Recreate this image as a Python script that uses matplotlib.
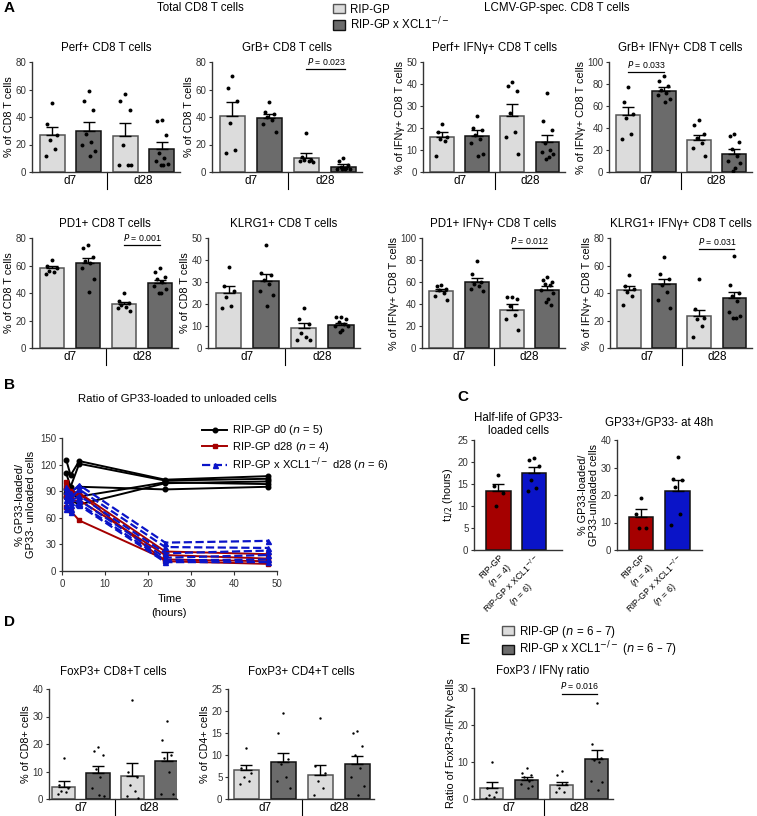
import matplotlib
matplotlib.use('Agg')
import matplotlib.pyplot as plt
from matplotlib.patches import Patch
from matplotlib.lines import Line2D

plt.rcParams['font.family'] = ['Liberation Sans', 'DejaVu Sans']
plt.rcParams['axes.linewidth'] = 1.0

W, H = 757, 816

# ---- data: panel A (means, sem, individual mice) ----
perf_mean = [27, 30, 26.5, 16.5]
perf_sem = [5.5, 6.5, 9, 5]
perf_pts = [[50, 35, 27, 23, 17, 12], [59, 52, 45, 28, 22, 20, 15, 12],
            [57, 52, 45, 20, 5, 5, 5], [38, 37, 27, 14, 10, 8, 6, 5, 5]]

grb_mean = [41, 39.5, 10.5, 4]
grb_sem = [10, 2.5, 3, 1.5]
grb_pts = [[70, 61, 52, 36, 16, 14], [51, 44, 42, 40, 38, 35, 29],
           [28.5, 11, 9, 9, 8, 8, 7], [10, 8, 5, 4, 3, 2, 2, 2, 2]]

perf_ifn_mean = [16, 16.5, 25.5, 13.5]
perf_ifn_sem = [2, 2.5, 5.5, 3.5]
perf_ifn_pts = [[22, 18, 16, 15, 14, 7.5], [25.5, 20, 19, 17, 15, 13, 8, 7.5],
                [41, 39, 37, 27, 18, 16, 8], [36, 23, 19, 13, 10, 9, 8, 7, 6]]

grb_ifn_mean = [52, 74, 29, 16]
grb_ifn_sem = [7.5, 3, 4.5, 4.5]
grb_ifn_pts = [[77, 64, 53, 49, 35, 30], [87, 83, 78, 75, 72, 70, 66, 64],
               [47, 43, 35, 31, 26, 22, 15], [35, 33, 27, 21, 15, 10, 8, 4, 1]]

pd1_mean = [58, 61.5, 32, 47]
pd1_sem = [2, 4, 1.5, 2.5]
pd1_pts = [[64, 60, 58, 56, 55, 54], [75, 73, 66, 63, 62, 58, 50, 41],
           [40, 34, 33, 31, 30, 29, 27], [58, 55, 52, 50, 48, 45, 43, 40, 40]]

klrg_mean = [25, 30.5, 9, 10.5]
klrg_sem = [3, 3, 2.5, 1]
klrg_pts = [[37, 28, 26, 23, 19, 18], [47, 34, 33, 31, 29, 26, 24, 19],
            [18, 13, 11, 7, 5, 3.5, 3.5], [14, 14, 13, 12, 11, 10, 10, 8, 7.5]]

pd1_ifn_mean = [51.5, 60, 35, 53]
pd1_ifn_sem = [2.5, 3.5, 5, 3]
pd1_ifn_pts = [[57, 56, 54, 53, 50, 47, 44], [79, 67, 60, 58, 56, 54, 52],
               [46, 46, 45, 38, 30, 26, 16], [65, 62, 60, 58, 57, 53, 50, 45, 42, 39]]

klrg_ifn_mean = [42, 46.5, 23, 36.5]
klrg_ifn_sem = [3, 4, 5, 4.5]
klrg_ifn_pts = [[53, 45, 43, 41, 38, 31], [66, 54, 50, 46, 41, 35, 29],
                [50, 28.5, 22, 21, 16, 8], [67, 46, 40, 38, 34, 26, 23, 22, 22]]

# ---- data: panel B (ratio over time, one list per mouse) ----
times = [1, 2, 4, 24, 48]
d0_mice = [[125, 108, 124, 103, 107], [110, 95, 121, 102, 104], [92, 90, 95, 92, 95],
           [88, 85, 84, 100, 98], [84, 80, 75, 99, 101]]
d28_mice = [[100, 90, 88, 22, 19], [85, 78, 80, 18, 14], [72, 68, 57, 13, 11],
            [95, 85, 87, 11, 8]]
xcl_d28_mice = [[95, 88, 97, 32, 34], [90, 82, 92, 27, 26], [85, 78, 85, 20, 23],
                [80, 75, 80, 15, 18], [75, 70, 76, 12, 13], [70, 67, 74, 10, 10]]

# ---- data: panel C ----
half_mean = [13.5, 17.5]
half_sem = [1.5, 1.3]
half_pts = [[17, 14.5, 13, 10], [21, 20.5, 19, 16, 14, 13.5]]
r48_mean = [12, 21.5]
r48_sem = [3, 4]
r48_pts = [[19, 13, 8, 8], [34, 26, 25.5, 23, 13, 9]]
c_labels = ['RIP-GP\n($\\it{n}$ = 4)', 'RIP-GP x XCL1$^{-/-}$\n($\\it{n}$ = 6)']

# ---- data: panel D, E ----
fox8_mean = [4.5, 9.5, 8.5, 14]
fox8_sem = [2, 2.5, 4.5, 3]
fox8_pts = [[15, 5, 4, 3, 2.5, 2], [19, 17.5, 16, 11, 8, 4, 1, 1.5],
            [36, 10, 8, 5, 3, 1, 0.5], [28.5, 21.5, 16, 15, 10, 2, 2]]
fox4_mean = [6.5, 8.5, 5.5, 8]
fox4_sem = [1.2, 2, 2.3, 1.8]
fox4_pts = [[11.5, 7, 6, 5, 4, 3.5], [19.5, 15, 9, 8, 5, 4, 2.5],
            [18.5, 7.5, 6, 4, 2.5, 1], [15.5, 15, 12, 10, 7, 5, 3, 1]]
ratio_mean = [3, 5.2, 3.7, 10.8]
ratio_sem = [1.5, 0.8, 1, 2.4]
ratio_pts = [[10, 3, 2, 1, 0.5, 0.2], [8.5, 7, 6.5, 6, 5, 4, 3.5, 3],
             [7.5, 6.5, 4, 3, 2, 2], [26, 15, 11, 10.5, 10, 5, 4.5, 2.5]]

groups = ['d7', 'd28']
LIGHT, DARK = '#dcdcdc', '#6b6b6b'
RED, BLUE = '#a50000', '#0a14c8'
TFS = 8.3   # subplot titles
YFS = 7.8   # y labels
KFS = 7     # tick labels


def rect(l, r, t, b):
    return [l / W, 1 - b / H, (r - l) / W, (b - t) / H]


def style(ax, ymax, step):
    ax.spines['top'].set_visible(False)
    ax.spines['right'].set_visible(False)
    for s in ['left', 'bottom']:
        ax.spines[s].set_color('#333333')
    ax.set_ylim(0, ymax)
    ax.set_yticks(range(0, ymax + 1, step))
    ax.tick_params(axis='y', labelsize=KFS, length=2.5, width=0.8, pad=1.5, colors='#333333')
    ax.tick_params(axis='x', length=0)


def offsets(n):
    pat = [0, -0.13, 0.13, -0.07, 0.07, -0.17, 0.17, 0.03, -0.03, 0.1]
    return pat[:n]


def bar_panel(ax, means, sems, pts, ymax, step, title, ylabel, xlim, width=0.68,
              dot=8, pval=None, cols=(LIGHT, DARK, LIGHT, DARK), tpad=8):
    x = list(range(len(means)))
    for i in x:
        ec = '#555555' if cols[i] == LIGHT else '#111111'
        ax.bar(i, means[i], width=width, color=cols[i], edgecolor=ec, linewidth=1.1, zorder=2)
    ax.errorbar(x, means, yerr=[[0] * len(x), sems], fmt='none', ecolor='black',
                elinewidth=1.0, capsize=4, capthick=1.0, zorder=3)
    for i in x:
        off = offsets(len(pts[i]))
        ax.scatter([i + o for o in off], pts[i], s=dot, color='black', zorder=4, linewidths=0)
    ax.set_xlim(*xlim)
    style(ax, ymax, step)
    ax.set_xticks([])
    if title:
        ax.set_title(title, fontsize=TFS, pad=tpad)
    ax.set_ylabel(ylabel, fontsize=YFS, labelpad=1)
    if len(means) == 4:
        tr = ax.get_xaxis_transform()
        ax.plot([1.5, 1.5], [0, -0.15], transform=tr, color='black', lw=0.8, clip_on=False)
        ax.text(0.5, -0.03, groups[0], transform=tr, ha='center', va='top', fontsize=8.5)
        ax.text(2.5, -0.03, groups[1], transform=tr, ha='center', va='top', fontsize=8.5)
    if pval:
        a, b, y, txt = pval
        ax.plot([a, b], [y, y], color='black', lw=0.9)
        ax.text((a + b) / 2, y + ymax * 0.02, '$\\it{P}$ = ' + txt, ha='center', va='bottom',
                fontsize=6.3)


fig = plt.figure(figsize=(W / 100, H / 100), dpi=100)

# ---- panel A ----
xl = (-0.55, 3.5)
ylab_tot = '% of CD8 T cells'
ylab_ifn = '% of IFNγ+ CD8 T cells'
specs = [
    ((32, 180, 62, 172), perf_mean, perf_sem, perf_pts, 80, 20, 'Perf+ CD8 T cells', ylab_tot, None),
    ((212, 362, 62, 172), grb_mean, grb_sem, grb_pts, 80, 20, 'GrB+ CD8 T cells', ylab_tot,
     (2, 3.05, 75, '0.023')),
    ((423, 565, 62, 172), perf_ifn_mean, perf_ifn_sem, perf_ifn_pts, 50, 10,
     'Perf+ IFNγ+ CD8 T cells', ylab_ifn, None),
    ((609, 752, 62, 172), grb_ifn_mean, grb_ifn_sem, grb_ifn_pts, 100, 20,
     'GrB+ IFNγ+ CD8 T cells', ylab_ifn, (0, 1, 91, '0.033')),
    ((32, 178, 238, 348), pd1_mean, pd1_sem, pd1_pts, 80, 20, 'PD1+ CD8 T cells', ylab_tot,
     (2, 3, 75, '0.001')),
    ((208, 360, 238, 348), klrg_mean, klrg_sem, klrg_pts, 50, 10, 'KLRG1+ CD8 T cells', ylab_tot, None),
    ((422, 565, 238, 348), pd1_ifn_mean, pd1_ifn_sem, pd1_ifn_pts, 100, 20,
     'PD1+ IFNγ+ CD8 T cells', ylab_ifn, (2, 3, 91, '0.012')),
    ((610, 752, 238, 348), klrg_ifn_mean, klrg_ifn_sem, klrg_ifn_pts, 80, 20,
     'KLRG1+ IFNγ+ CD8 T cells', ylab_ifn, (2, 3, 72, '0.031')),
]
for r, m, s, p, ym, st, t, yl, pv in specs:
    ax = fig.add_axes(rect(*r))
    bar_panel(ax, m, s, p, ym, st, t, yl, xl, pval=pv)

fig.text(4 / W, 1 - 8 / H, 'A', fontsize=11, fontweight='bold', va='center')
fig.text(200 / W, 1 - 8 / H, 'Total CD8 T cells', fontsize=8.3, ha='center', va='center')
fig.text(557 / W, 1 - 8 / H, 'LCMV-GP-spec. CD8 T cells', fontsize=8.3, ha='center', va='center')
fig.legend(handles=[Patch(facecolor=LIGHT, edgecolor='#555555'),
                    Patch(facecolor=DARK, edgecolor='#111111')],
           labels=['RIP-GP', 'RIP-GP x XCL1$^{-/-}$'], loc='upper left',
           bbox_to_anchor=(328 / W, 1 + 1 / H), frameon=False, fontsize=8.3,
           handlelength=1.1, handleheight=0.9, handletextpad=0.4, labelspacing=0.0,
           borderaxespad=0)

# ---- panel B ----
axb = fig.add_axes(rect(62, 277, 438, 571))
for m in d0_mice:
    axb.plot(times, m, color='black', marker='o', ms=3.3, lw=1.4)
for m in d28_mice:
    axb.plot(times, m, color=RED, marker='s', ms=3.3, lw=1.4)
for m in xcl_d28_mice:
    axb.plot(times, m, color=BLUE, marker='^', ms=3.6, lw=1.6, ls='--')
axb.set_xlim(0, 50)
style(axb, 150, 30)
axb.set_xticks(range(0, 51, 10))
axb.tick_params(axis='x', labelsize=KFS, length=3, width=0.8, pad=3, colors='#333333')
axb.set_xlabel('Time\n(hours)', fontsize=8, labelpad=3, linespacing=1.5)
axb.set_ylabel('% GP33-loaded/\nGP33- unloaded cells', fontsize=8, labelpad=3)
fig.text(4 / W, 1 - 385 / H, 'B', fontsize=11, fontweight='bold', va='center')
fig.text(177 / W, 1 - 399 / H, 'Ratio of GP33-loaded to unloaded cells', fontsize=8.2,
         ha='center', va='center')
fig.legend(handles=[Line2D([], [], color='black', marker='o', ms=3.3, lw=1.4),
                    Line2D([], [], color=RED, marker='s', ms=3.3, lw=1.4),
                    Line2D([], [], color=BLUE, marker='^', ms=3.6, lw=1.6, ls='--')],
           labels=['RIP-GP d0 ($\\it{n}$ = 5)', 'RIP-GP d28 ($\\it{n}$ = 4)',
                   'RIP-GP x XCL1$^{-/-}$ d28 ($\\it{n}$ = 6)'],
           loc='upper left', bbox_to_anchor=(198 / W, 1 - 419 / H), frameon=False,
           fontsize=8, handlelength=2.2, handletextpad=0.5, labelspacing=0.2,
           borderaxespad=0)

# ---- panel C ----
axc1 = fig.add_axes(rect(474, 562, 440, 550))
bar_panel(axc1, half_mean, half_sem, half_pts, 25, 5, 'Half-life of GP33-\nloaded cells',
          't$_{1/2}$ (hours)', (-0.69, 1.79), cols=(RED, BLUE), tpad=4)
axc2 = fig.add_axes(rect(617, 702, 440, 550))
bar_panel(axc2, r48_mean, r48_sem, r48_pts, 40, 10, 'GP33+/GP33- at 48h',
          '% GP33-loaded/\nGP33-unloaded cells', (-0.66, 1.67), cols=(RED, BLUE), tpad=10)
for ax in (axc1, axc2):
    for p in ax.patches:
        p.set_edgecolor('#111111')
    ax.set_xticks([0, 1])
    ax.set_xticklabels(c_labels, rotation=45, ha='right', rotation_mode='anchor',
                       fontsize=6.3, multialignment='center')
    ax.tick_params(axis='x', pad=2)
fig.text(457 / W, 1 - 397 / H, 'C', fontsize=11, fontweight='bold', va='center')

# ---- panel D ----
axd1 = fig.add_axes(rect(49, 177, 689, 799))
bar_panel(axd1, fox8_mean, fox8_sem, fox8_pts, 40, 10, 'FoxP3+ CD8+T cells',
          '% of CD8+ cells', (-0.43, 3.3), dot=3, tpad=10)
axd2 = fig.add_axes(rect(228, 374, 689, 799))
bar_panel(axd2, fox4_mean, fox4_sem, fox4_pts, 25, 5, 'FoxP3+ CD4+T cells',
          '% of CD4+ cells', (-0.49, 3.45), dot=3, tpad=10)
fig.text(4 / W, 1 - 622 / H, 'D', fontsize=11, fontweight='bold', va='center')

# ---- panel E ----
axe = fig.add_axes(rect(474, 613, 688, 799))
bar_panel(axe, ratio_mean, ratio_sem, ratio_pts, 30, 10, None,
          'Ratio of FoxP3+/IFNγ cells', (-0.5, 3.47), dot=3, pval=(2, 3, 28.5, '0.016'))
fig.text(543 / W, 1 - 671 / H, 'FoxP3 / IFNγ ratio', fontsize=TFS, ha='center', va='center')
fig.text(460 / W, 1 - 640 / H, 'E', fontsize=11, fontweight='bold', va='center')
fig.legend(handles=[Patch(facecolor=LIGHT, edgecolor='#555555'),
                    Patch(facecolor=DARK, edgecolor='#111111')],
           labels=['RIP-GP ($\\it{n}$ = 6 – 7)', 'RIP-GP x XCL1$^{-/-}$ ($\\it{n}$ = 6 – 7)'],
           loc='upper left', bbox_to_anchor=(497 / W, 1 - 619 / H), frameon=False, fontsize=8.3,
           handlelength=1.1, handleheight=0.9, handletextpad=0.4, labelspacing=0.0,
           borderaxespad=0)

fig.savefig('out.png', dpi=100)
